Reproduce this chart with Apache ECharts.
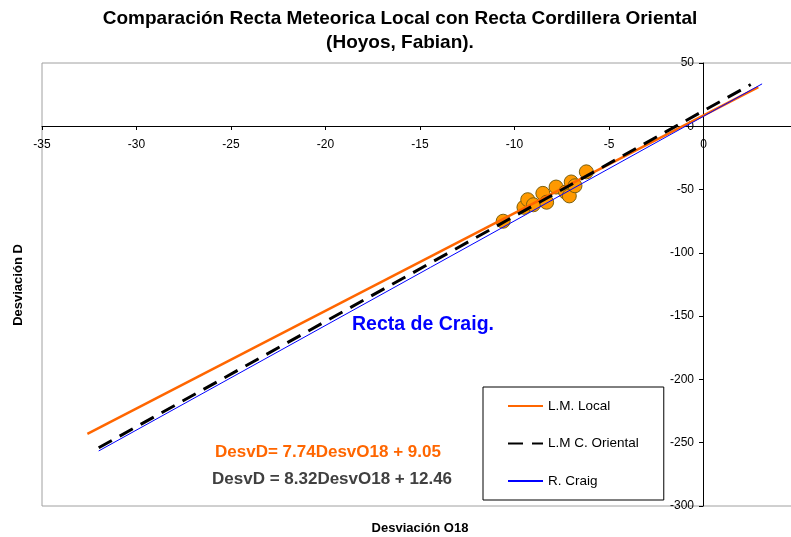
<!DOCTYPE html>
<html>
<head>
  <meta charset="UTF-8">
  <title>Comparación Recta Meteorica Local con Recta Cordillera Oriental</title>
  <script src="https://cdn.jsdelivr.net/npm/echarts/dist/echarts.min.js"></script>
  <style>
    html, body { margin: 0; padding: 0; overflow: hidden; background: #fff; }
    #main { width: 800px; height: 537px; }
  </style>
</head>
<body>
  <div id="main"></div>

  <script>
    var chartDom = document.getElementById('main');
    var myChart = echarts.init(chartDom);

    // muestras (Desviacion O18, Desviacion D)
    var desvO18 = [-10.6, -9.5, -9.3, -9.0, -8.5, -8.3, -7.8, -7.3, -7.1, -7.0, -6.8, -6.2];
    var desvD   = [-75, -64, -58, -62, -53, -60, -48, -52, -55, -44, -47, -36];

    // extremos de las rectas
    var localX = [-32.6, 2.9];
    var localY = [-243, 31];
    var orientalX = [-32.0, 2.5];
    var orientalY = [-254, 33];
    var craigX = [-32.0, 3.1];
    var craigY = [-256.5, 33.5];

    var seriesNames = ['L.M. Local', 'L.M C. Oriental', 'R. Craig'];

    function pairs(xs, ys) {
      return xs.map(function (x, i) { return [x, ys[i]]; });
    }

    var font = 'Arial, "Liberation Sans", sans-serif';

    // los ejes se cruzan en (0, 0): se desplazan desde el borde del grid
    var gridLeft = 42, gridTop = 63, gridBottom = 31;

    var option = {
        backgroundColor: '#ffffff',
        animation: false,
        title: {
            text: 'Comparación Recta Meteorica Local con Recta Cordillera Oriental\n(Hoyos, Fabian).',
            left: 'center',
            top: 7,
            padding: 0,
            textStyle: {
                color: '#000',
                fontSize: 19,
                fontWeight: 'bold',
                fontFamily: font,
                lineHeight: 24
            }
        },
        legend: {
            data: seriesNames,
            orient: 'vertical',
            left: 483,
            top: 387,
            padding: [12, 25, 12, 24],
            itemGap: 23.5,
            itemWidth: 35,
            itemHeight: 3,
            itemStyle: { color: 'rgba(0,0,0,0)', borderWidth: 0 },
            borderColor: '#000',
            borderWidth: 1,
            textStyle: {
                color: '#000',
                fontSize: 13.5,
                fontFamily: font
            }
        },
        grid: {
            left: gridLeft,
            right: 2,
            top: gridTop,
            bottom: gridBottom,
            show: true,
            borderColor: '#a0a0a0',
            borderWidth: 1
        },
        xAxis: {
            type: 'value',
            min: -35,
            max: 5,
            interval: 5,
            position: 'bottom',
            offset: -380,
            axisLine: { onZero: false, lineStyle: { color: '#000', width: 1 } },
            axisTick: { show: true, length: 4, lineStyle: { color: '#000' } },
            axisLabel: {
                color: '#000',
                fontSize: 12,
                fontFamily: font,
                margin: 13,
                showMaxLabel: false
            },
            splitLine: { show: false }
        },
        yAxis: {
            type: 'value',
            min: -300,
            max: 50,
            interval: 50,
            position: 'left',
            offset: -661,
            axisLine: { onZero: false, lineStyle: { color: '#000', width: 1 } },
            axisTick: { show: true, length: 4, lineStyle: { color: '#000' } },
            axisLabel: {
                color: '#000',
                fontSize: 12,
                fontFamily: font,
                margin: 9
            },
            splitLine: { show: false }
        },
        graphic: [
            {
                type: 'text', x: 352, y: 325,
                style: { text: 'Recta de Craig.', fill: '#0000ff', font: 'bold 19.5px ' + font, verticalAlign: 'middle' }
            },
            {
                type: 'text', x: 215, y: 452,
                style: { text: 'DesvD= 7.74DesvO18 + 9.05', fill: '#ff6600', font: 'bold 17px ' + font, verticalAlign: 'middle' }
            },
            {
                type: 'text', x: 212, y: 479,
                style: { text: 'DesvD = 8.32DesvO18 + 12.46', fill: '#404040', font: 'bold 17px ' + font, verticalAlign: 'middle' }
            },
            {
                type: 'text', x: 420, y: 528,
                style: { text: 'Desviación O18', fill: '#000', font: 'bold 13px ' + font, align: 'center', verticalAlign: 'middle' }
            },
            {
                type: 'text', x: 18, y: 285, rotation: Math.PI / 2,
                style: { text: 'Desviación D', fill: '#000', font: 'bold 13px ' + font, align: 'center', verticalAlign: 'middle' }
            }
        ],
        series: [
            {
                name: 'Muestras',
                type: 'scatter',
                data: pairs(desvO18, desvD),
                symbol: 'circle',
                symbolSize: 14,
                itemStyle: {
                    color: '#ff9900',
                    borderColor: '#7a6010',
                    borderWidth: 1,
                    opacity: 1
                }
            },
            {
                name: seriesNames[0],
                type: 'line',
                data: pairs(localX, localY),
                symbol: 'none',
                lineStyle: { color: '#ff6600', width: 2.5 },
                itemStyle: { color: '#ff6600' }
            },
            {
                name: seriesNames[1],
                type: 'line',
                data: pairs(orientalX, orientalY),
                symbol: 'none',
                lineStyle: { color: '#000', width: 3, type: [15, 9] },
                itemStyle: { color: '#000' }
            },
            {
                name: seriesNames[2],
                type: 'line',
                data: pairs(craigX, craigY),
                symbol: 'none',
                lineStyle: { color: '#0000ff', width: 1 },
                itemStyle: { color: '#0000ff' }
            }
        ]
    };

    myChart.setOption(option);
  </script>
</body>
</html>
